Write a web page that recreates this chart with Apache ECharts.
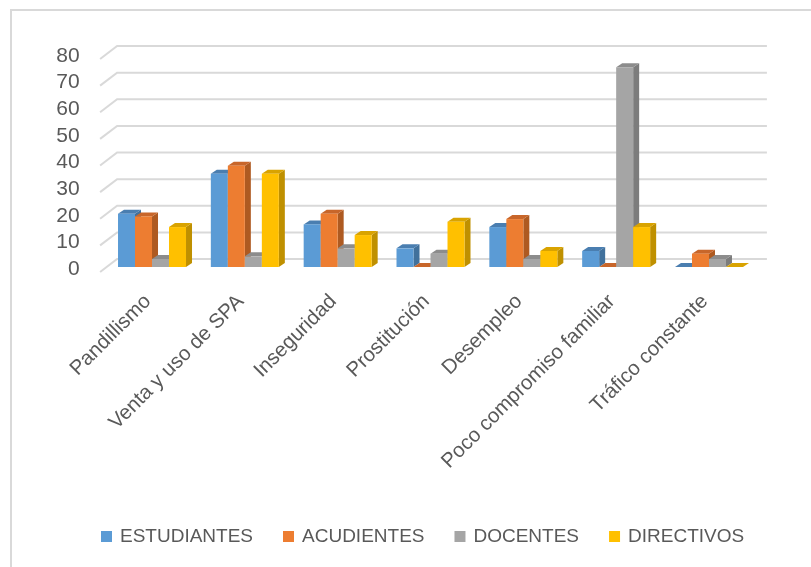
<!DOCTYPE html>
<html>
<head>
<meta charset="utf-8">
<script src="https://cdn.jsdelivr.net/npm/echarts@6/dist/echarts.min.js"></script>
<style>
  html, body { margin: 0; padding: 0; background: #fff; }
  #chart { width: 811px; height: 567px; }
</style>
</head>
<body>
<div id="chart"></div>
<script>
// Categories and values per group
var categories = ['Pandillismo', 'Venta y uso de SPA', 'Inseguridad', 'Prostitución', 'Desempleo', 'Poco compromiso familiar', 'Tráfico constante'];
var estudiantes = [20, 35, 16, 7, 15, 6, 0];
var acudientes = [19, 38, 20, 0, 18, 0, 5];
var docentes = [3, 4, 7, 5, 3, 75, 3];
var directivos = [15, 35, 12, 17, 6, 15, 0];
var yTicks = [0, 10, 20, 30, 40, 50, 60, 70, 80];

var seriesNames = ['ESTUDIANTES', 'ACUDIENTES', 'DOCENTES', 'DIRECTIVOS'];
var seriesValues = [estudiantes, acudientes, docentes, directivos];

// front / top / side shades for the prism-style columns
var shades = [
  { front: '#5B9BD5', top: '#4A7EB0', side: '#41719C' },
  { front: '#ED7D31', top: '#C8662A', side: '#AE5A21' },
  { front: '#A5A5A5', top: '#8C8C8C', side: '#7C7C7C' },
  { front: '#FFC000', top: '#D9A300', side: '#BF9000' }
];

var FONT = '"Liberation Sans", Arial, sans-serif';
var TEXT = '#595959';
var BAR_W = 17;        // column face width
var DEPTH = [6, -4];   // column depth offset
var WALL = [11.5, -8]; // back wall offset from column plane
var SIDE = [-17, 13];  // side wall run toward the viewer

function barRenderer(sIdx) {
  return function (params, api) {
    var c = api.value(0), v = api.value(1);
    var base = api.coord([c, 0]);
    var top = api.coord([c, v]);
    var x0 = base[0] - BAR_W * 2 + sIdx * BAR_W;
    var x1 = x0 + BAR_W;
    var yb = base[1], yt = top[1];
    var dx = DEPTH[0], dy = DEPTH[1];
    var s = shades[sIdx];
    return {
      type: 'group',
      children: [
        { type: 'polygon', shape: { points: [[x1, yt], [x1 + dx, yt + dy], [x1 + dx, yb + dy], [x1, yb]] }, style: { fill: s.side } },
        { type: 'polygon', shape: { points: [[x0, yt], [x1, yt], [x1 + dx, yt + dy], [x0 + dx, yt + dy]] }, style: { fill: s.top } },
        { type: 'rect', shape: { x: x0, y: yt, width: BAR_W, height: yb - yt }, style: { fill: s.front } }
      ]
    };
  };
}

function wallRenderer(params, api) {
  var v = api.value(0);
  var band = api.size([1, 0])[0];
  var left = api.coord([0, v]);
  var right = api.coord([categories.length - 1, v]);
  var xl = left[0] - band / 2 + WALL[0];
  var xr = right[0] + band / 2 + WALL[0];
  var y = left[1] + WALL[1];
  var st = { stroke: '#D9D9D9', lineWidth: 2, fill: null };
  return {
    type: 'group',
    children: [
      { type: 'polyline', shape: { points: [[xl + SIDE[0], y + SIDE[1]], [xl, y], [xr, y]] }, style: st }
    ]
  };
}

var series = [{
  name: 'wall',
  type: 'custom',
  z: 1,
  silent: true,
  renderItem: wallRenderer,
  encode: { x: -1, y: 0 },
  data: yTicks.map(function (t) { return [t]; })
}];

seriesValues.forEach(function (vals, i) {
  series.push({
    name: seriesNames[i],
    type: 'custom',
    z: 2 + i,
    renderItem: barRenderer(i),
    itemStyle: { color: shades[i].front },
    encode: { x: 0, y: 1 },
    data: vals.map(function (v, k) { return [k, v]; })
  });
});

var chart = echarts.init(document.getElementById('chart'), null, { renderer: 'canvas' });
chart.setOption({
  backgroundColor: '#ffffff',
  animation: false,
  textStyle: { fontFamily: FONT },
  graphic: [{
    type: 'rect',
    shape: { x: 11, y: 10, width: 900, height: 700 },
    style: { fill: null, stroke: '#D9D9D9', lineWidth: 2 },
    z: 0
  }],
  grid: { left: 105.6, right: 55.6, top: 54, bottom: 300, containLabel: false },
  legend: {
    data: seriesNames,
    left: 96,
    top: 522,
    icon: 'rect',
    itemWidth: 11,
    itemHeight: 11,
    itemGap: 30,
    textStyle: { fontFamily: FONT, fontSize: 19, color: TEXT, padding: [0, 0, 0, 3] }
  },
  xAxis: {
    type: 'category',
    data: categories,
    axisLine: { show: false },
    axisTick: { show: false },
    splitLine: { show: false },
    axisLabel: { rotate: 45, fontFamily: FONT, fontSize: 20.5, color: TEXT, margin: 27, padding: [0, 6, 0, 0], interval: 0 }
  },
  yAxis: {
    type: 'value',
    min: 0,
    max: 80,
    interval: 10,
    axisLine: { show: false },
    axisTick: { show: false },
    splitLine: { show: false },
    axisLabel: { fontFamily: FONT, fontSize: 21, color: TEXT, margin: 26, verticalAlign: 'top', lineHeight: 4 }
  },
  series: series
});
</script>
</body>
</html>
